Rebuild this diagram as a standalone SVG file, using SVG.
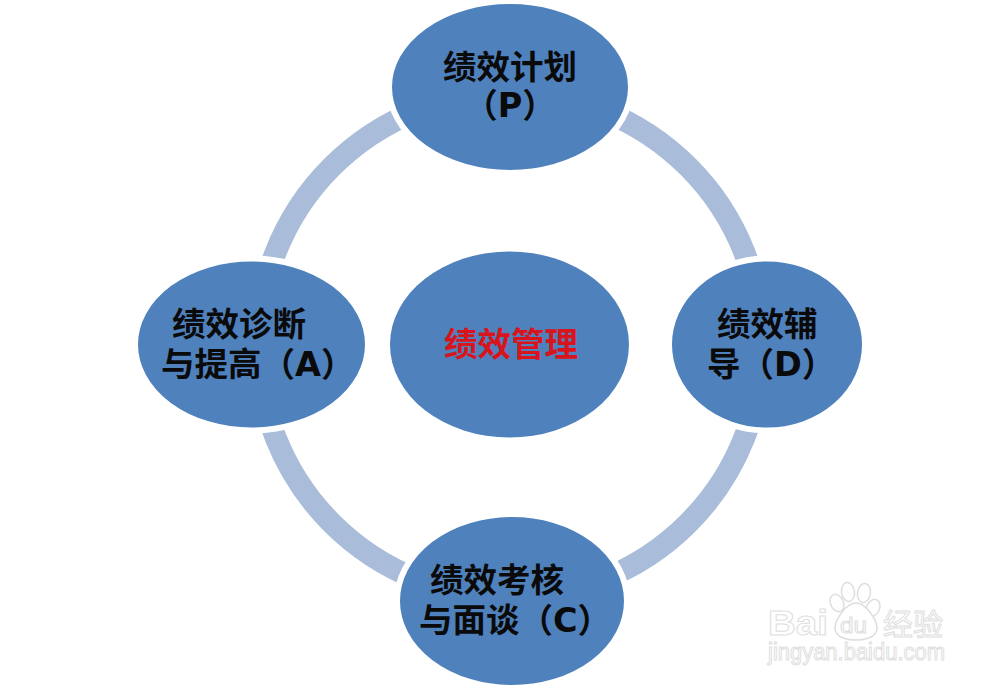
<svg xmlns="http://www.w3.org/2000/svg" width="1000" height="689" viewBox="0 0 1000 689">
<style>
.n{fill:#4f81bd;stroke:#fff;stroke-width:6}
.t{font-family:"DejaVu Sans","Noto Sans CJK SC","Noto Sans CJK JP",sans-serif;font-size:33.500px;font-weight:700;fill:#0a0a0a}
.r{fill:#d8141c}
.w{fill:#fff;stroke:#dedede;stroke-width:1;font-family:"Liberation Sans","Noto Sans CJK SC",sans-serif}
</style>
<rect width="1000" height="689" fill="#fff"/>
<g id="connectors">
<circle cx="510" cy="345" r="252" fill="none" stroke="#a9bcd9" stroke-width="22"/>
</g>
<g id="node-plan">
<ellipse class="n" cx="510" cy="87" rx="121" ry="86"/>
<text class="t"><tspan x="443" y="79">绩效计划</tspan><tspan x="510" y="117" text-anchor="middle">（P）</tspan></text>
</g>
<g id="node-coach">
<ellipse class="n" cx="767" cy="344.500" rx="98" ry="86"/>
<text class="t"><tspan x="717" y="336">绩效辅</tspan><tspan x="707" y="376">导（D）</tspan></text>
</g>
<g id="node-review">
<ellipse class="n" cx="512" cy="601" rx="115" ry="87"/>
<text class="t"><tspan x="430" y="592">绩效考核</tspan><tspan x="419" y="632">与面谈（C）</tspan></text>
</g>
<g id="node-improve">
<ellipse class="n" cx="251.500" cy="344.500" rx="116.500" ry="86"/>
<text class="t"><tspan x="172" y="336">绩效诊断</tspan><tspan x="161" y="376">与提高（A）</tspan></text>
</g>
<g id="node-center">
<ellipse cx="509.500" cy="344.500" rx="119.500" ry="93" fill="#4f81bd"/>
<text class="t r" x="444" y="356">绩效管理</text>
</g>
<g id="watermark">
<g fill="#fff" stroke="#dedede" stroke-width="1.500">
<ellipse cx="837" cy="603" rx="6.500" ry="9" transform="rotate(-25 837 603)"/>
<ellipse cx="848" cy="592" rx="6.500" ry="9.500" transform="rotate(-8 848 592)"/>
<ellipse cx="864" cy="593" rx="6.500" ry="9.500" transform="rotate(8 864 593)"/>
<ellipse cx="873" cy="608" rx="6.500" ry="9" transform="rotate(25 873 608)"/>
<path d="M856 603C866 603 877 620 877 628C877 636 868 640 856 640C844 640 835 636 835 628C835 620 846 603 856 603Z"/>
</g>
<text class="w" x="768" y="635" font-size="35" font-weight="700" textLength="60" lengthAdjust="spacingAndGlyphs">Bai</text>
<text class="w" x="840" y="633" font-size="22" textLength="27" lengthAdjust="spacingAndGlyphs">du</text>
<text class="w" x="883" y="635" font-size="30" textLength="60" lengthAdjust="spacingAndGlyphs">经验</text>
<text class="w" x="768" y="660" font-size="23" textLength="177" lengthAdjust="spacingAndGlyphs">jingyan.baidu.com</text>
</g>
</svg>
